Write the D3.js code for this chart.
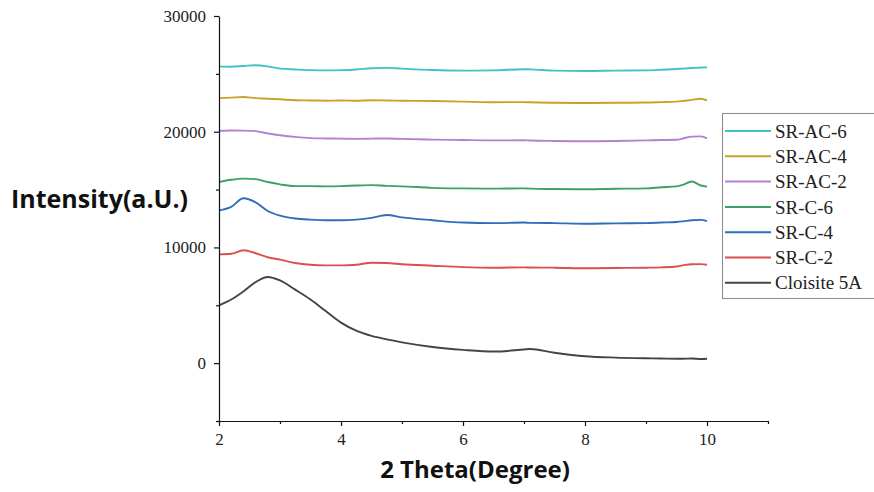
<!DOCTYPE html>
<html>
<head>
<meta charset="utf-8">
<script src="https://cdn.jsdelivr.net/npm/d3@7"></script>
<style>
  html, body { margin: 0; padding: 0; background: #fff; }
  svg { display: block; }
</style>
</head>
<body>
<svg id="chart" width="874" height="492"></svg>
<script>
// ---- data ----
const theta = [2.0, 2.2, 2.4, 2.6, 2.8, 3.0, 3.25, 3.5, 3.75, 4.0, 4.25, 4.5, 4.75, 5.0, 5.5, 6.0, 6.5, 7.0, 7.1, 7.5, 8.0, 8.5, 9.0, 9.25, 9.5, 9.6, 9.75, 9.9, 10.0];

const cloisite5A = [5000, 5500, 6200, 7000, 7450, 7150, 6350, 5500, 4500, 3500, 2800, 2350, 2050, 1800, 1400, 1150, 1000, 1180, 1220, 900, 600, 480, 420, 400, 380, 380, 400, 360, 380];
const srC2 = [9400, 9450, 9750, 9500, 9150, 8950, 8650, 8500, 8450, 8450, 8500, 8680, 8650, 8550, 8420, 8300, 8250, 8280, 8260, 8250, 8200, 8220, 8250, 8280, 8350, 8450, 8550, 8560, 8500];
const srC4 = [13200, 13500, 14250, 13900, 13150, 12750, 12500, 12400, 12350, 12350, 12400, 12550, 12800, 12600, 12350, 12150, 12100, 12150, 12120, 12100, 12050, 12080, 12100, 12150, 12200, 12250, 12350, 12380, 12280];
const srC6 = [15650, 15850, 15950, 15900, 15650, 15450, 15300, 15300, 15280, 15300, 15350, 15380, 15320, 15280, 15150, 15100, 15080, 15100, 15080, 15050, 15030, 15070, 15100, 15200, 15280, 15400, 15700, 15350, 15250];
const srAC2 = [20080, 20100, 20090, 20050, 19850, 19700, 19550, 19450, 19420, 19400, 19380, 19400, 19420, 19380, 19320, 19280, 19250, 19260, 19240, 19200, 19180, 19200, 19250, 19280, 19300, 19400, 19580, 19600, 19420];
const srAC4 = [22900, 22950, 23000, 22900, 22850, 22800, 22720, 22700, 22680, 22700, 22680, 22720, 22700, 22680, 22650, 22600, 22550, 22560, 22540, 22500, 22480, 22500, 22520, 22560, 22600, 22650, 22750, 22850, 22700];
const srAC6 = [25650, 25620, 25680, 25750, 25650, 25450, 25380, 25320, 25300, 25320, 25380, 25480, 25520, 25450, 25330, 25280, 25300, 25400, 25390, 25280, 25250, 25280, 25300, 25350, 25420, 25450, 25500, 25550, 25560];

const seriesNames = ["SR-AC-6", "SR-AC-4", "SR-AC-2", "SR-C-6", "SR-C-4", "SR-C-2", "Cloisite 5A"];
const seriesValues = [srAC6, srAC4, srAC2, srC6, srC4, srC2, cloisite5A];
const seriesColors = ["#3fc4c6", "#c9a227", "#b57fd3", "#3f9f6a", "#2f6dbd", "#db4f4f", "#444444"];

const xTicksMajor = [2, 4, 6, 8, 10];
const xTicksMinor = [3, 5, 7, 9, 11];
const yTicksMajor = [0, 10000, 20000, 30000];
const yTicksMinor = [-5000, 5000, 15000, 25000];

// ---- layout ----
const svg = d3.select("#chart");
const x = d3.scaleLinear().domain([2, 11]).range([219, 768]);
const y = d3.scaleLinear().domain([-5000, 30000]).range([421, 16]);

const serif = "'Liberation Serif', 'Times New Roman', serif";
const sans = "'Open Sans', 'Noto Sans', sans-serif";

// lines (draw bottom series first)
const line = d3.line()
  .x((d, i) => x(theta[i]))
  .y(d => y(d))
  .curve(d3.curveMonotoneX);

seriesValues.slice().reverse().forEach((vals, k) => {
  const idx = seriesValues.length - 1 - k;
  svg.append("path")
    .datum(vals)
    .attr("fill", "none")
    .attr("stroke", seriesColors[idx])
    .attr("stroke-width", 1.9)
    .attr("stroke-linejoin", "round")
    .attr("d", line);
});

// x axis
const gx = svg.append("g").attr("transform", `translate(0,${y(-5000)})`);
gx.call(d3.axisBottom(x).tickValues(xTicksMajor).tickSize(5).tickSizeOuter(0).tickFormat(d3.format("d")));
gx.append("g").call(d3.axisBottom(x).tickValues(xTicksMinor).tickSize(3).tickFormat(""))
  .select(".domain").remove();
gx.selectAll("text").attr("font-family", serif).attr("font-size", 17).attr("fill", "#222").attr("dy", "0.95em");
gx.selectAll("line, path").attr("stroke", "#111").attr("stroke-width", 1.2);

// y axis
const gy = svg.append("g").attr("transform", `translate(${x(2)},0)`);
gy.call(d3.axisLeft(y).tickValues(yTicksMajor).tickSize(5).tickSizeOuter(0).tickFormat(d3.format("d")));
gy.append("g").call(d3.axisLeft(y).tickValues(yTicksMinor).tickSize(3).tickFormat(""))
  .select(".domain").remove();
gy.selectAll("text").attr("font-family", serif).attr("font-size", 17).attr("fill", "#222").attr("x", -13);
gy.selectAll("line, path").attr("stroke", "#111").attr("stroke-width", 1.2);

// axis titles
svg.append("text")
  .attr("x", 475).attr("y", 478)
  .attr("text-anchor", "middle")
  .attr("font-family", sans).attr("font-weight", 700).attr("font-size", 24)
  .attr("fill", "#111")
  .text("2 Theta(Degree)");

svg.append("text")
  .attr("x", 11).attr("y", 208)
  .attr("font-family", sans).attr("font-weight", 700).attr("font-size", 25)
  .attr("fill", "#111")
  .text("Intensity(a.U.)");

// legend
const lg = svg.append("g");
lg.append("rect")
  .attr("x", 722.5).attr("y", 113.5).attr("width", 160).attr("height", 185)
  .attr("fill", "#fff").attr("stroke", "#8a8a8a").attr("stroke-width", 1);
seriesNames.forEach((name, i) => {
  const cy = 131 + i * 25.3;
  lg.append("line")
    .attr("x1", 725).attr("x2", 771).attr("y1", cy).attr("y2", cy)
    .attr("stroke", seriesColors[i]).attr("stroke-width", 2);
  lg.append("text")
    .attr("x", 775).attr("y", cy).attr("dy", "0.35em")
    .attr("font-family", serif).attr("font-size", 19).attr("fill", "#222")
    .text(name);
});
</script>
</body>
</html>
